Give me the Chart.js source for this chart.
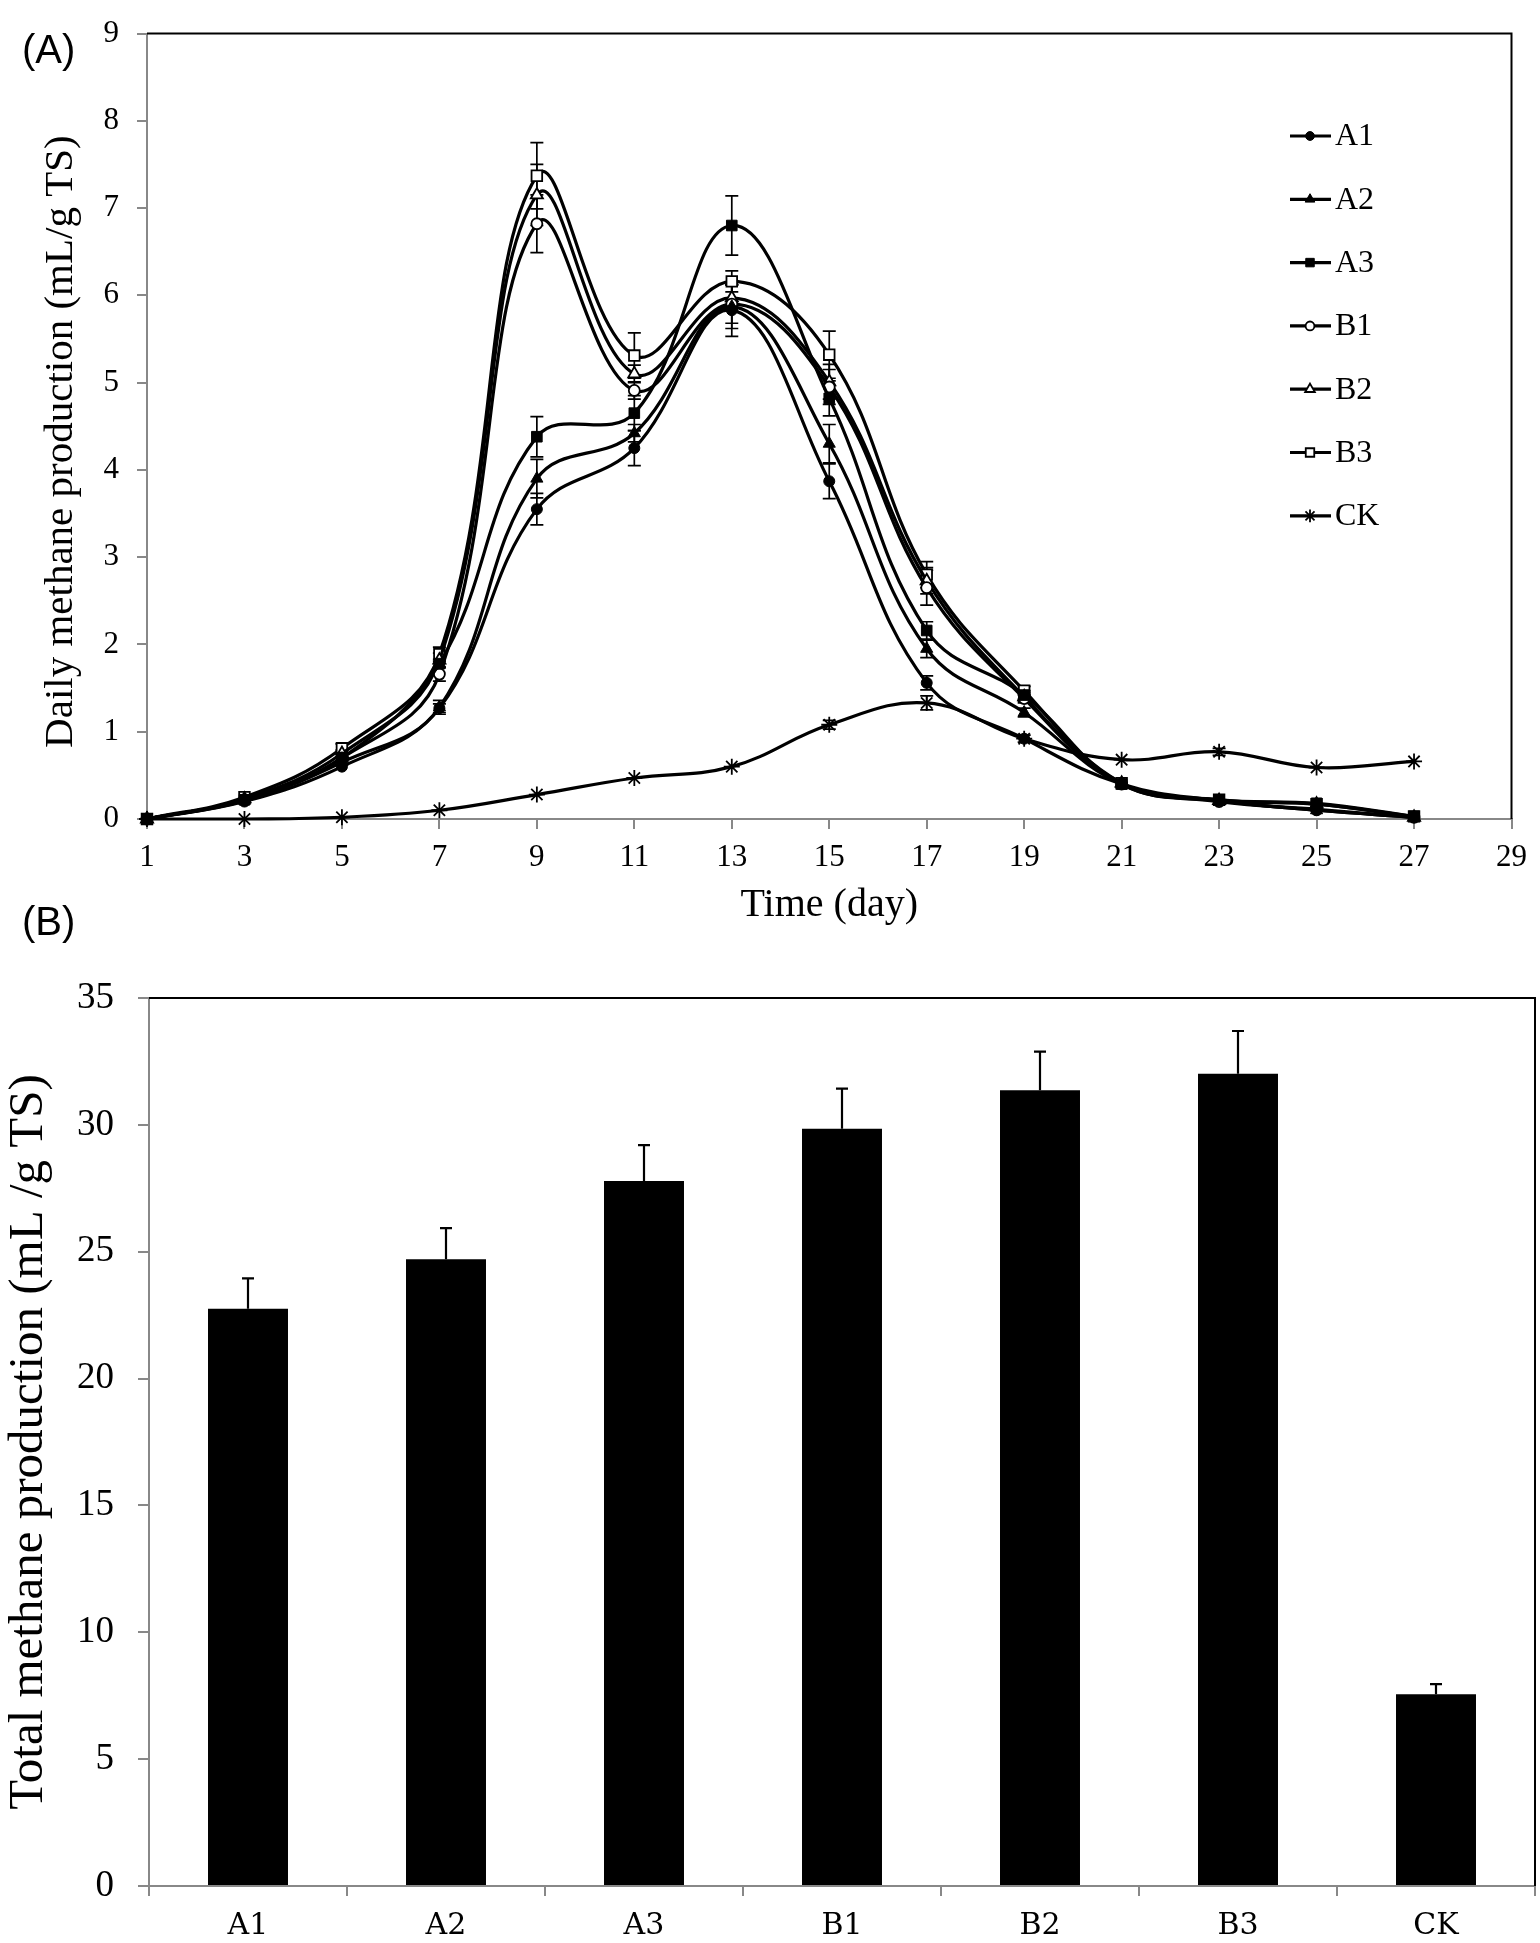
<!DOCTYPE html>
<html><head><meta charset="utf-8">
<script src="https://cdn.jsdelivr.net/npm/chart.js@4.4.0/dist/chart.umd.min.js"></script>
<style>
html,body{margin:0;padding:0;background:#fff;}
#wrap{position:relative;width:1540px;height:1943px;overflow:hidden;background:#fff;}
.lbl{position:absolute;font-family:"Liberation Sans",Arial,sans-serif;font-size:40px;color:#000;line-height:1;}
canvas{position:absolute;left:0;}
</style></head><body>
<div id="wrap">
<canvas id="cA" width="1540" height="940" style="top:0"></canvas>
<canvas id="cB" width="1540" height="1003" style="top:940px"></canvas>
<div class="lbl" style="left:22px;top:29px">(A)</div>
<div class="lbl" style="left:22px;top:901px">(B)</div>
</div>
<script>
// ---------- Panel A data ----------
const days = [1,3,5,7,9,11,13,15,17,19,21,23,25,27];
const xTickValues = [1,3,5,7,9,11,13,15,17,19,21,23,25,27,29];
const yTickValuesA = [0,1,2,3,4,5,6,7,8,9];
const seriesNames = ['A1','A2','A3','B1','B2','B3','CK'];
const A1 = [0,0.20,0.60,1.27,3.55,4.25,5.83,3.87,1.56,0.92,0.40,0.21,0.10,0.02];
const A2 = [0,0.21,0.65,1.28,3.90,4.42,5.87,4.30,1.95,1.22,0.40,0.21,0.10,0.02];
const A3 = [0,0.22,0.70,1.78,4.38,4.65,6.80,4.82,2.16,1.42,0.40,0.22,0.18,0.03];
const B1 = [0,0.22,0.70,1.66,6.82,4.91,5.90,4.95,2.65,1.38,0.40,0.20,0.11,0.02];
const B2 = [0,0.23,0.75,1.82,7.15,5.10,5.97,5.01,2.73,1.40,0.41,0.21,0.17,0.02];
const B3 = [0,0.25,0.81,1.89,7.37,5.31,6.16,5.32,2.80,1.47,0.41,0.22,0.17,0.03];
const CK = [0,0.00,0.02,0.10,0.28,0.47,0.60,1.08,1.33,0.92,0.68,0.77,0.59,0.66];
const errA1 = [0,0.02,0.03,0.05,0.18,0.20,0.30,0.20,0.08,0.04,0.02,0.02,0.02,0.01];
const errA2 = [0,0.02,0.03,0.08,0.22,0.10,0.25,0.22,0.10,0.05,0.02,0.02,0.02,0.01];
const errA3 = [0,0.02,0.04,0.05,0.23,0.20,0.34,0.20,0.10,0.05,0.02,0.02,0.02,0.01];
const errB1 = [0,0.02,0.04,0.08,0.33,0.10,0.22,0.20,0.20,0.05,0.02,0.02,0.02,0.01];
const errB2 = [0,0.02,0.04,0.08,0.35,0.10,0.15,0.20,0.15,0.05,0.02,0.02,0.02,0.01];
const errB3 = [0,0.03,0.05,0.08,0.38,0.26,0.12,0.27,0.15,0.05,0.02,0.02,0.02,0.01];
const errCK = [0,0.00,0.01,0.02,0.02,0.03,0.03,0.05,0.08,0.03,0.03,0.04,0.03,0.03];

// ---------- Panel B data ----------
const groups = ['A1','A2','A3','B1','B2','B3','CK'];
const totals = [22.75,24.70,27.79,29.85,31.36,32.01,7.56];
const totalErr = [1.20,1.23,1.41,1.58,1.53,1.69,0.40];
const yTickValuesB = [0,5,10,15,20,25,30,35];

const SERIF = "'Liberation Serif','Times New Roman',serif";
const WIDESERIF = "'DejaVu Serif',serif";
Chart.defaults.font.family = SERIF;
Chart.defaults.color = '#000';

const values = [A1,A2,A3,B1,B2,B3,CK];
const errs = [errA1,errA2,errA3,errB1,errB2,errB3,errCK];
const styles = [
  {ps:'circle', r:5.5, fill:'#000', bw:1},
  {ps:'triangle', r:7, fill:'#000', bw:1},
  {ps:'rect', r:7.5, fill:'#000', bw:1},
  {ps:'circle', r:5.5, fill:'#fff', bw:1.8},
  {ps:'triangle', r:7, fill:'#fff', bw:1.8},
  {ps:'rect', r:7.5, fill:'#fff', bw:1.8},
  {ps:'star', r:8, fill:'#000', bw:1.8}
];

const datasetsA = seriesNames.map((n,i)=>({
  label:n,
  data: days.map((d,j)=>({x:d, y:values[i][j]})),
  errors: errs[i],
  borderColor:'#000', borderWidth:3.2, tension:0.4, fill:false,
  pointStyle: styles[i].ps, pointRadius: styles[i].r, pointHoverRadius: styles[i].r,
  pointBackgroundColor: styles[i].fill, pointBorderColor:'#000', pointBorderWidth: styles[i].bw,
  clip:false
}));

const borderPlugin = {
  id:'boxBorder',
  afterDraw(chart){
    const {ctx, chartArea:a} = chart;
    ctx.save();
    ctx.strokeStyle='#000'; ctx.lineWidth=2;
    ctx.beginPath();
    ctx.moveTo(a.left, a.top); ctx.lineTo(a.right, a.top); ctx.lineTo(a.right, a.bottom);
    ctx.stroke();
    ctx.restore();
  }
};

const lineErrPlugin = {
  id:'lineErr',
  beforeDatasetsDraw(chart){
    const {ctx, scales:{x,y}} = chart;
    ctx.save();
    ctx.strokeStyle='#000'; ctx.lineWidth=1.7;
    chart.data.datasets.forEach(ds=>{
      ds.data.forEach((p,j)=>{
        const e = ds.errors[j];
        if(!e || e < 0.04) return;
        const px = x.getPixelForValue(p.x);
        const y1 = y.getPixelForValue(p.y + e), y0 = y.getPixelForValue(Math.max(0,p.y - e));
        ctx.beginPath();
        ctx.moveTo(px,y0); ctx.lineTo(px,y1);
        ctx.moveTo(px-6.5,y0); ctx.lineTo(px+6.5,y0);
        ctx.moveTo(px-6.5,y1); ctx.lineTo(px+6.5,y1);
        ctx.stroke();
      });
    });
    ctx.restore();
  }
};

const legendPlugin = {
  id:'customLegend',
  afterDraw(chart){
    const ctx = chart.ctx;
    ctx.save();
    chart.data.datasets.forEach((ds,i)=>{
      const yy = 136 + 63.3*i;
      ctx.strokeStyle='#000'; ctx.lineWidth=3.2;
      ctx.beginPath(); ctx.moveTo(1290,yy); ctx.lineTo(1331,yy); ctx.stroke();
      ctx.fillStyle = styles[i].fill; ctx.strokeStyle='#000';
      ctx.lineWidth = styles[i].bw;
      Chart.helpers.drawPoint(ctx, {pointStyle:styles[i].ps, rotation:0, radius:styles[i].r*0.8, borderWidth:styles[i].bw}, 1310, yy);
      ctx.fillStyle='#000';
      ctx.font = "32px " + SERIF;
      ctx.textBaseline='middle'; ctx.textAlign='left';
      ctx.fillText(ds.label, 1335, yy+1);
    });
    ctx.restore();
  }
};

new Chart(document.getElementById('cA'), {
  type:'line',
  data:{datasets:datasetsA},
  options:{
    responsive:false, animation:false, devicePixelRatio:1,
    layout:{padding:{left:37, top:15, right:20, bottom:11}},
    plugins:{legend:{display:false}, tooltip:{enabled:false}},
    scales:{
      x:{type:'linear', min:1, max:29,
        afterBuildTicks:s=>{ s.ticks = xTickValues.map(v=>({value:v})); },
        afterFit:s=>{ s.height = 110; },
        ticks:{font:{size:31, lineHeight:1}, color:'#000', padding:13, maxRotation:0, autoSkip:false},
        grid:{drawOnChartArea:false, drawTicks:true, tickLength:10, color:'#888', lineWidth:2},
        border:{display:true, color:'#888', width:2},
        title:{display:true, text:'Time (day)', font:{size:40}, color:'#000', padding:0}
      },
      y:{min:0, max:9,
        afterBuildTicks:s=>{ s.ticks = yTickValuesA.map(v=>({value:v})); },
        afterFit:s=>{ s.width = 110; },
        ticks:{font:{size:31, lineHeight:1}, color:'#000', padding:18},
        grid:{drawOnChartArea:false, drawTicks:true, tickLength:10, color:'#888', lineWidth:2},
        border:{display:true, color:'#888', width:2},
        title:{display:true, text:'Daily methane production (mL/g TS)   ', font:{size:41}, color:'#000', padding:0}
      }
    }
  },
  plugins:[lineErrPlugin, borderPlugin, legendPlugin]
});

const barErrPlugin = {
  id:'barErr',
  afterDatasetsDraw(chart){
    const {ctx, scales:{x,y}} = chart;
    ctx.save();
    ctx.strokeStyle='#000'; ctx.lineWidth=2.2;
    totals.forEach((v,i)=>{
      const px = x.getPixelForValue(i);
      const y0 = y.getPixelForValue(v), y1 = y.getPixelForValue(v + totalErr[i]);
      ctx.beginPath();
      ctx.moveTo(px,y0); ctx.lineTo(px,y1);
      ctx.moveTo(px-6,y1); ctx.lineTo(px+6,y1);
      ctx.stroke();
    });
    ctx.restore();
  }
};

new Chart(document.getElementById('cB'), {
  type:'bar',
  data:{labels:groups, datasets:[{label:'Total', data:totals, backgroundColor:'#000', borderWidth:0, barPercentage:0.404, categoryPercentage:1.0}]},
  options:{
    responsive:false, animation:false, devicePixelRatio:1,
    layout:{padding:{left:0, top:58, right:5, bottom:0}},
    plugins:{legend:{display:false}, tooltip:{enabled:false}},
    scales:{
      x:{
        afterFit:s=>{ s.height = 57; },
        ticks:{font:{family:WIDESERIF, size:30, lineHeight:1}, color:'#000', padding:15},
        grid:{drawOnChartArea:false, drawTicks:true, tickLength:10, color:'#888', lineWidth:2, offset:true},
        border:{display:true, color:'#888', width:2}
      },
      y:{min:0, max:35,
        afterBuildTicks:s=>{ s.ticks = yTickValuesB.map(v=>({value:v})); },
        afterFit:s=>{ s.width = 149; },
        ticks:{font:{size:37, lineHeight:1}, color:'#000', padding:24},
        grid:{drawOnChartArea:false, drawTicks:true, tickLength:11, color:'#888', lineWidth:2},
        border:{display:true, color:'#888', width:2},
        title:{display:true, text:'Total methane production (mL /g TS)', font:{size:49}, color:'#000', padding:0}
      }
    }
  },
  plugins:[barErrPlugin, borderPlugin]
});
</script>
</body></html>
